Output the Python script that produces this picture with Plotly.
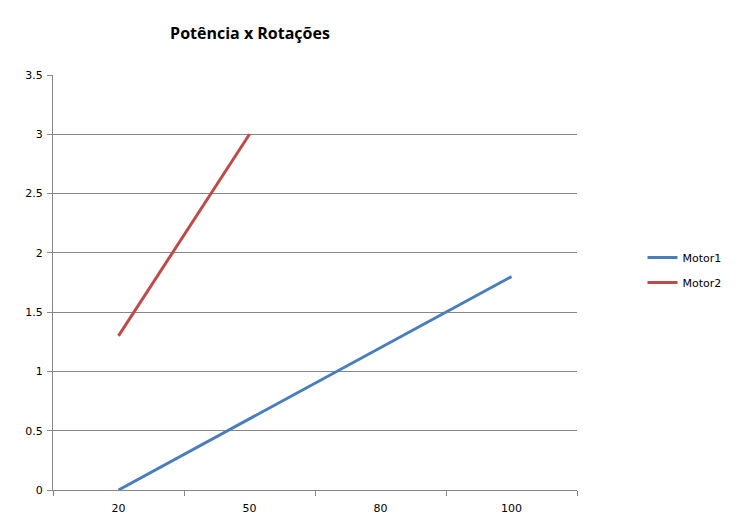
import plotly.graph_objects as go

categories = ["20", "50", "80", "100"]
motor1 = [0, 0.6, 1.2, 1.8]
motor2_categories = ["20", "50"]
motor2 = [1.3, 3.0]
y_ticks = [0, 0.5, 1, 1.5, 2, 2.5, 3, 3.5]

fig = go.Figure()
fig.add_trace(go.Scatter(x=categories, y=motor1, mode="lines", name="Motor1",
                         legendgroup="m1",
                         line=dict(color="#4A7EBB", width=3)))
fig.add_trace(go.Scatter(x=motor2_categories, y=motor2, mode="lines", name="Motor2",
                         legendgroup="m2",
                         line=dict(color="#BE4B48", width=3)))

grid = "#868686"
fig.update_layout(
    width=736, height=525,
    margin=dict(l=45, r=167, t=67, b=43),
    paper_bgcolor="white", plot_bgcolor="white",
    font=dict(family="DejaVu Sans", size=11, color="#000000"),
    title=dict(text="<b>Potência x Rotações</b>", x=242 / 736, xanchor="center",
               y=1 - 25 / 525, yanchor="middle",
               font=dict(family="Open Sans", size=16, color="#000000")),
    legend=dict(x=1.125, xanchor="left", xref="paper", y=0.53, yanchor="middle",
                font=dict(family="DejaVu Sans", size=11), tracegroupgap=6,
                bgcolor="rgba(0,0,0,0)"),
    showlegend=True,
)
fig.update_xaxes(type="category", categoryorder="array", categoryarray=categories,
                 range=[-0.5, 3.5], showgrid=False, showline=True, linecolor=grid,
                 linewidth=1, ticks="outside", tickson="boundaries", ticklen=5,
                 tickcolor=grid, zeroline=False, tickfont=dict(size=11),
                 ticklabelstandoff=8)
fig.update_yaxes(range=[0, 3.5], tickvals=y_ticks,
                 ticktext=[f"{v:g}" for v in y_ticks],
                 showgrid=True, gridcolor=grid, gridwidth=1, showline=True,
                 linecolor=grid, linewidth=1, ticks="outside", ticklen=5,
                 tickcolor=grid, zeroline=False, tickfont=dict(size=11),
                 ticklabelstandoff=2)

fig.write_html("out.html")
